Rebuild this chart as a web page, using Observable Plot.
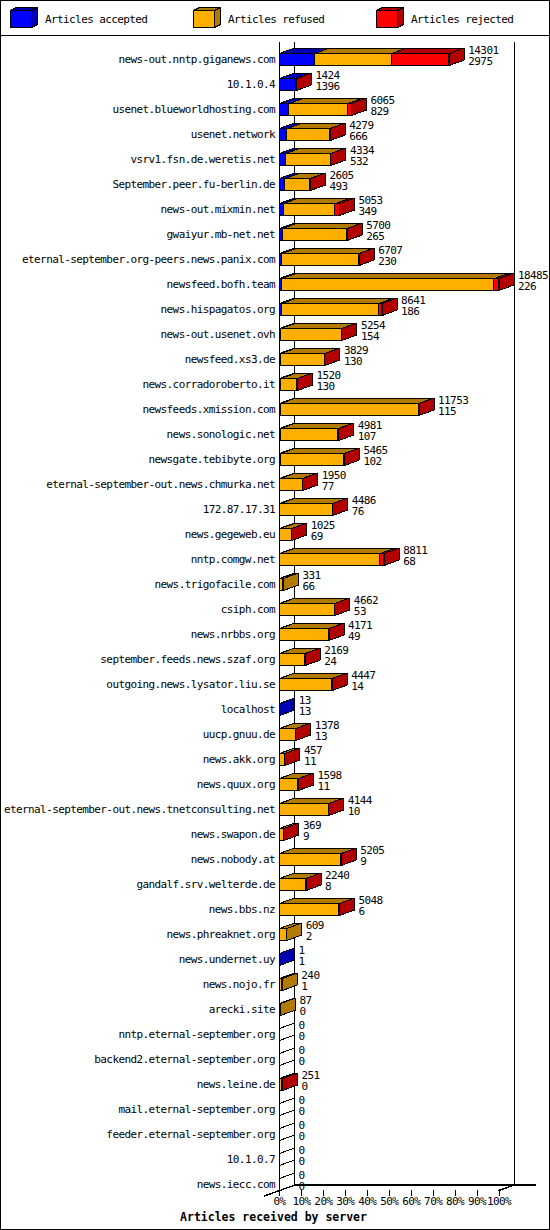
<!DOCTYPE html>
<html>
<head>
<meta charset="utf-8">
<script src="https://cdn.jsdelivr.net/npm/d3@7"></script>
<script src="https://cdn.jsdelivr.net/npm/@observablehq/plot@0.6"></script>
<style>
  html, body { margin: 0; padding: 0; background: #fff; }
  #frame { position: relative; width: 550px; height: 1230px; box-sizing: border-box; border: 1px solid #000; overflow: hidden; font-family: "DejaVu Sans Mono", monospace; background: #fff; }
  #legend { position: relative; height: 34px; border-bottom: 1px solid #000; }
  .item { position: absolute; top: 0; height: 34px; }
  .item svg { position: absolute; left: 0; top: 0; }
  .item span { position: absolute; left: 35px; top: 12px; font-size: 11px; letter-spacing: -0.6px; line-height: 14px; white-space: nowrap; color: #000; }
  #chart svg { display: block; }
  #caption { position: absolute; left: 0; top: 1206px; width: 545px; height: 20px; text-align: center; font-weight: bold; font-size: 11.5px; line-height: 20px; color: #000; }
</style>
</head>
<body>
<div id="frame">
  <div id="legend"></div>
  <div id="chart"></div>
  <div id="caption"></div>
</div>
<script>
// ---------- data ----------
const servers = [
  "news-out.nntp.giganews.com", "10.1.0.4", "usenet.blueworldhosting.com", "usenet.network",
  "vsrv1.fsn.de.weretis.net", "September.peer.fu-berlin.de", "news-out.mixmin.net", "gwaiyur.mb-net.net",
  "eternal-september.org-peers.news.panix.com", "newsfeed.bofh.team", "news.hispagatos.org", "news-out.usenet.ovh",
  "newsfeed.xs3.de", "news.corradoroberto.it", "newsfeeds.xmission.com", "news.sonologic.net",
  "newsgate.tebibyte.org", "eternal-september-out.news.chmurka.net", "172.87.17.31", "news.gegeweb.eu",
  "nntp.comgw.net", "news.trigofacile.com", "csiph.com", "news.nrbbs.org",
  "september.feeds.news.szaf.org", "outgoing.news.lysator.liu.se", "localhost", "uucp.gnuu.de",
  "news.akk.org", "news.quux.org", "eternal-september-out.news.tnetconsulting.net", "news.swapon.de",
  "news.nobody.at", "gandalf.srv.welterde.de", "news.bbs.nz", "news.phreaknet.org",
  "news.undernet.uy", "news.nojo.fr", "arecki.site", "nntp.eternal-september.org",
  "backend2.eternal-september.org", "news.leine.de", "mail.eternal-september.org", "feeder.eternal-september.org",
  "10.1.0.7", "news.iecc.com"
];
const totals = [
  14301, 1424, 6065, 4279, 4334, 2605, 5053, 5700, 6707, 18485, 8641, 5254,
  3829, 1520, 11753, 4981, 5465, 1950, 4486, 1025, 8811, 331, 4662, 4171,
  2169, 4447, 13, 1378, 457, 1598, 4144, 369, 5205, 2240, 5048, 609,
  1, 240, 87, 0, 0, 251, 0, 0, 0, 0
];
const accepted = [
  2975, 1396, 829, 666, 532, 493, 349, 265, 230, 226, 186, 154,
  130, 130, 115, 107, 102, 77, 76, 69, 68, 66, 53, 49,
  24, 14, 13, 13, 11, 11, 10, 9, 9, 8, 6, 2,
  1, 1, 0, 0, 0, 0, 0, 0, 0, 0
];
const refused = [
  6476, 0, 4936, 3593, 3782, 2097, 4354, 5415, 6457, 17879, 8195, 5085,
  3684, 1380, 11618, 4859, 5348, 1863, 4400, 946, 8423, 265, 4599, 4112,
  2135, 4423, 0, 1355, 436, 1577, 4124, 350, 5186, 2222, 5032, 607,
  0, 239, 87, 0, 0, 240, 0, 0, 0, 0
];
const rejected = [
  4850, 28, 300, 20, 20, 15, 350, 20, 20, 380, 260, 15,
  15, 10, 20, 15, 15, 10, 10, 10, 320, 0, 10, 10,
  10, 10, 0, 10, 10, 10, 10, 10, 10, 10, 10, 0,
  0, 0, 0, 0, 0, 11, 0, 0, 0, 0
];
const seriesNames = ["Articles accepted", "Articles refused", "Articles rejected"];
const seriesColors = ["#0000FF", "#FFAF00", "#FF0000"];
const seriesShades = ["#0000B2", "#B27A00", "#B20000"];
const tickValues = [0, 10, 20, 30, 40, 50, 60, 70, 80, 90, 100];
const tickLabels = ["0%", "10%", "20%", "30%", "40%", "50%", "60%", "70%", "80%", "90%", "100%"];
const chartTitle = "Articles received by server";

// ---------- geometry constants (pixels -> scale units) ----------
const W = 548, Hgt = 1177;
const mLeft = 278, mRight = 50.5, mTop = 23, mBottom = 29;
const plotW = W - mLeft - mRight;           // pixels for 0..100 %
const rowPx = 25;                            // pixels per row
const DX = 15 / plotW * 100;                 // depth, x (percent units)
const DY = 5.5 / rowPx;                      // depth, y (row units)
const HH = 6 / rowPx;                        // half height of front face
const lastRow = servers.length - 1;
const wallTop = -17 / rowPx;

const maxTotal = d3.max(totals);
const pct = v => v / maxTotal * 100;

// ---------- build faces ----------
const fronts = [];
const polys = [];
const ends = [];
servers.forEach((name, i) => {
  const vals = [accepted[i], refused[i], rejected[i]];
  let x0 = 0, last = -1;
  vals.forEach((v, k) => {
    if (v <= 0) return;
    const x1 = x0 + pct(v);
    fronts.push({x1: x0, x2: x1, y1: i - HH, y2: i + HH, fill: seriesColors[k]});
    const id = `t${i}-${k}`;
    [[x0, i - HH], [x1, i - HH], [x1 + DX, i - HH - DY], [x0 + DX, i - HH - DY], [x0, i - HH]]
      .forEach(([x, y]) => polys.push({id, x, y, fill: seriesShades[k]}));
    x0 = x1; last = k;
  });
  const sid = `s${i}`;
  const sf = last < 0 ? "#FFFFFF" : seriesShades[last];
  [[x0, i - HH], [x0 + DX, i - HH - DY], [x0 + DX, i + HH - DY], [x0, i + HH], [x0, i - HH]]
    .forEach(([x, y]) => polys.push({id: sid, x, y, fill: sf}));
  ends.push({i, x: x0 + DX, total: totals[i], acc: accepted[i]});
});

const floorFront = lastRow + HH;
const floorBack = lastRow + HH - DY;
const floorLines = [
  {id: "left", x: -DX, y: floorFront + DY}, {id: "left", x: DX, y: floorBack},
  {id: "back", x: DX, y: floorBack}, {id: "back", x: 100 + 2.4 * DX, y: floorBack},
  {id: "right", x: 100, y: floorFront}, {id: "right", x: 100 + DX, y: floorBack}
];
const walls = [
  {x: 0, y1: wallTop, y2: floorFront},
  {x: DX, y1: wallTop, y2: floorBack},
  {x: 100 + DX, y1: wallTop, y2: floorBack}
];

// ---------- legend ----------
const legend = document.getElementById("legend");
seriesNames.forEach((name, k) => {
  const item = document.createElement("div");
  item.className = "item";
  item.style.left = (9 + 183 * k) + "px";
  item.innerHTML =
    `<svg width="32" height="34" shape-rendering="crispEdges">
      <polygon points="0.5,9.5 21.5,9.5 27.5,6.5 6.5,6.5" fill="${seriesShades[k]}" stroke="#000"/>
      <polygon points="21.5,9.5 27.5,6.5 27.5,23.5 21.5,26.5" fill="${seriesShades[k]}" stroke="#000"/>
      <rect x="0.5" y="9.5" width="21" height="17" fill="${seriesColors[k]}" stroke="#000"/>
    </svg><span>${name}</span>`;
  legend.appendChild(item);
});

// ---------- chart ----------
const chart = Plot.plot({
  width: W,
  height: Hgt,
  marginLeft: mLeft,
  marginRight: mRight,
  marginTop: mTop,
  marginBottom: mBottom,
  x: {domain: [0, 100], axis: null},
  y: {domain: [0, lastRow], reverse: true, axis: null},
  color: {type: "identity"},
  style: {fontFamily: "'DejaVu Sans Mono', monospace", fontSize: "11px", letterSpacing: "-0.6px", color: "#000", background: "#fff", shapeRendering: "crispEdges"},
  marks: [
    Plot.ruleX(walls, {x: "x", y1: "y1", y2: "y2", stroke: "#000"}),
    Plot.line(floorLines, {x: "x", y: "y", z: "id", stroke: "#000"}),
    Plot.ruleX(tickValues, {x: d => d, y1: floorFront, y2: floorFront + 6 / rowPx, stroke: "#000"}),
    Plot.text(tickValues, {x: d => d, y: floorFront + 10.5 / rowPx, text: (d, i) => tickLabels[i], fill: "#000"}),
    Plot.line(polys, {x: "x", y: "y", z: "id", fill: "fill", stroke: "#000", strokeWidth: 1, strokeLinejoin: "miter"}),
    Plot.rect(fronts, {x1: "x1", x2: "x2", y1: "y1", y2: "y2", fill: "fill", stroke: "#000", strokeWidth: 1}),
    Plot.text(servers, {x: 0, y: (d, i) => i, text: d => d, textAnchor: "end", dx: -4.5, fill: "#000"}),
    Plot.text(ends, {x: "x", y: "i", text: d => String(d.total), textAnchor: "start", dx: 4, dy: -9, fill: "#000"}),
    Plot.text(ends, {x: "x", y: "i", text: d => String(d.acc), textAnchor: "start", dx: 4, dy: 2, fill: "#000"})
  ]
});
document.getElementById("chart").appendChild(chart);
document.getElementById("caption").textContent = chartTitle;
</script>
</body>
</html>
